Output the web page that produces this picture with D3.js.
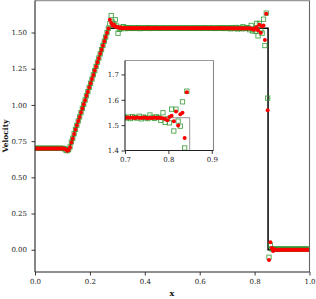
<!DOCTYPE html>
<html><head><meta charset="utf-8">
<script src="https://cdn.jsdelivr.net/npm/d3@7"></script>
<style>
html,body{margin:0;padding:0;background:#fff;}
svg text{font-family:"DejaVu Serif",serif;}
</style></head>
<body><svg id="c" width="316" height="299"></svg>
<script>
// ---------------- data ----------------
const nCells = 200; // cell-centred grid on [0,1]
const xTicks = [0.0, 0.2, 0.4, 0.6, 0.8, 1.0];
const yTicks = [0.00, 0.25, 0.50, 0.75, 1.00, 1.25, 1.50];
const insetXTicks = [0.7, 0.8, 0.9];
const insetYTicks = [1.4, 1.5, 1.6, 1.7];

// exact solution breakpoints
const exactX = [0.0, 0.125, 0.268, 0.849, 0.849, 1.0];
const exactY = [0.70, 0.70, 1.53, 1.53, 0.00, 0.00];

// red (filled circles) scheme
const redY = [
 0.700,0.700,0.700,0.700,0.700,0.700,0.700,0.700,0.700,0.700,0.700,0.700,0.700,0.700,0.700,0.700,0.700,0.700,0.700,0.700,0.700,
 0.698,0.692,0.684,0.688,
 0.708,0.740,0.768,0.800,0.830,0.859,0.889,0.917,0.947,0.975,1.005,1.033,1.063,1.091,1.121,1.149,1.179,1.207,1.237,1.265,1.295,1.323,1.353,1.381,1.411,1.439,1.469,1.498,1.527,
 1.588,1.565,1.548,1.556,1.541,1.536,1.538,1.532,1.534,1.530,1.532,
 1.531,1.529,1.530,1.531,1.530,1.529,1.530,1.531,1.530,1.530,1.529,1.530,1.531,1.530,1.530,1.529,
 1.530,1.531,1.530,1.529,1.530,1.530,1.531,1.530,1.529,1.530,1.530,1.531,1.530,1.530,1.529,1.530,1.530,1.531,1.530,1.530,
 1.530,1.529,1.530,1.530,1.531,1.530,1.530,1.529,1.530,1.530,1.531,1.530,1.529,1.530,1.530,1.530,1.531,1.530,1.529,1.530,
 1.530,1.530,1.531,1.530,1.529,1.530,1.530,1.531,1.530,1.529,1.530,1.530,1.531,1.530,1.529,1.530,1.530,1.529,1.530,1.529,
 1.530,1.529,1.530,1.528,1.530,1.529,1.528,1.530,1.529,1.527,1.529,1.528,1.530,1.528,1.529,
 1.528,1.527,1.524,1.519,1.532,1.537,1.515,1.554,1.499,1.543,1.549,1.449,1.630,0.963,-0.071,0.051,0.012,-0.008,0.004,
 0.000,0.000,0.000,0.000,0.000,0.000,0.000,0.000,0.000,0.000,0.000,0.000,0.000,0.000,0.000,0.000,0.000,0.000,0.000,0.000,0.000,0.000,0.000,0.000,0.000
];

// green (open squares) scheme
const greenY = [
 0.700,0.700,0.700,0.700,0.700,0.700,0.700,0.700,0.700,0.700,0.700,0.700,0.700,0.700,0.700,0.700,0.700,0.700,0.700,0.700,0.700,
 0.697,0.688,0.684,0.692,
 0.710,0.744,0.770,0.801,0.831,0.860,0.889,0.918,0.947,0.976,1.005,1.034,1.063,1.092,1.121,1.150,1.179,1.208,1.237,1.266,1.295,1.324,1.353,1.382,1.411,1.440,1.469,1.499,1.530,
 1.560,1.617,1.572,1.558,1.588,1.545,1.495,1.522,1.528,1.537,1.541,
 1.527,1.533,1.531,1.528,1.533,1.529,1.531,1.528,1.532,1.530,1.534,1.527,1.531,1.529,1.532,1.529,
 1.531,1.533,1.528,1.530,1.532,1.529,1.531,1.530,1.531,1.530,1.529,1.531,1.530,1.531,1.530,1.531,1.529,1.531,1.530,1.530,
 1.531,1.530,1.531,1.530,1.529,1.531,1.530,1.531,1.530,1.531,1.530,1.529,1.531,1.530,1.531,1.530,1.530,1.531,1.530,1.531,
 1.530,1.529,1.531,1.532,1.529,1.530,1.531,1.529,1.531,1.530,1.528,1.532,1.529,1.531,1.529,1.533,1.528,1.531,1.532,1.528,
 1.532,1.526,1.534,1.530,1.528,1.535,1.525,1.532,1.529,1.526,1.540,1.531,1.527,1.533,1.530,
 1.519,1.549,1.511,1.525,1.509,1.563,1.477,1.563,1.516,1.496,1.592,1.410,1.634,1.047,-0.052,0.032,0.006,0.004,0.004,
 0.004,0.004,0.004,0.004,0.004,0.004,0.004,0.004,0.004,0.004,0.004,0.004,0.004,0.004,0.004,0.004,0.004,0.004,0.004,0.004,0.004,0.004,0.004,0.004,0.004
];

const xGrid = d3.range(nCells).map(i => (i + 0.5) / nCells);
const redPts = xGrid.map((x, i) => [x, redY[i]]);
const greenPts = xGrid.map((x, i) => [x, greenY[i]]);
const exactPts = exactX.map((x, i) => [x, exactY[i]]);

// ---------------- drawing ----------------
const svg = d3.select("#c");
const RED = "#ff0000", GREEN = "#2a962a";
const SQ = 4.3, R = 2.0;

function drawPanel(g, x, y, exactColor, exactWidth, clipId) {
  const [x0, x1] = x.range(), [y0, y1] = y.range();
  svg.append("defs").append("clipPath").attr("id", clipId)
    .append("rect").attr("x", x0).attr("y", y1).attr("width", x1 - x0).attr("height", y0 - y1);
  const body = g.append("g").attr("clip-path", `url(#${clipId})`);
  body.append("path").datum(exactPts)
    .attr("d", d3.line().x(d => x(d[0])).y(d => y(d[1])))
    .attr("fill", "none").attr("stroke", exactColor).attr("stroke-width", exactWidth);
  body.append("g").selectAll("rect").data(greenPts).join("rect")
    .attr("x", d => x(d[0]) - SQ / 2).attr("y", d => y(d[1]) - SQ / 2)
    .attr("width", SQ).attr("height", SQ)
    .attr("fill", "none").attr("stroke", GREEN).attr("stroke-width", 0.9).attr("stroke-opacity", 0.85);
  body.append("g").selectAll("circle").data(redPts).join("circle")
    .attr("cx", d => x(d[0])).attr("cy", d => y(d[1])).attr("r", R)
    .attr("fill", RED);
}

function styleAxis(a) {
  a.select(".domain").remove();
  a.selectAll(".tick line").attr("stroke", "#222").attr("stroke-width", 0.9);
  a.selectAll(".tick text").attr("fill", "#222").attr("font-size", "7px")
    .attr("font-family", "DejaVu Serif, serif");
}

function spines(g, x, y, colTop, colRight) {
  const [x0, x1] = x.range(), [y0, y1] = y.range();
  g.append("line").attr("x1", x0).attr("x2", x1).attr("y1", y1).attr("y2", y1).attr("stroke", colTop).attr("stroke-width", 1.1);
  g.append("line").attr("x1", x1).attr("x2", x1).attr("y1", y0).attr("y2", y1).attr("stroke", colRight).attr("stroke-width", 1.1);
  g.append("line").attr("x1", x0).attr("x2", x0).attr("y1", y0).attr("y2", y1).attr("stroke", "#222").attr("stroke-width", 1.1);
  g.append("line").attr("x1", x0).attr("x2", x1).attr("y1", y0).attr("y2", y0).attr("stroke", "#222").attr("stroke-width", 1.1);
}

// main axes
const x = d3.scaleLinear().domain([0, 1]).range([35, 309.5]);
const y = d3.scaleLinear().domain([-0.1537, 1.7205]).range([272, 0.6]);
const main = svg.append("g");
drawPanel(main, x, y, "#000", 1.5, "clipMain");

const gx = main.append("g").attr("transform", "translate(0,272)")
  .call(d3.axisBottom(x).tickValues(xTicks).tickFormat(d3.format(".1f")).tickSize(3.5).tickPadding(4));
styleAxis(gx);
const gy = main.append("g").attr("transform", "translate(35,0)")
  .call(d3.axisLeft(y).tickValues(yTicks).tickFormat(d3.format(".2f")).tickSize(3.5).tickPadding(4.5));
styleAxis(gy);
spines(main, x, y, "#999", "#666");

main.append("text").attr("x", 172).attr("y", 296).attr("text-anchor", "middle")
  .attr("font-size", "8px").attr("font-weight", "bold").attr("fill", "#111").text("x");
main.append("text").attr("transform", "translate(8.3,136) rotate(-90)").attr("text-anchor", "middle")
  .attr("font-size", "7.5px").attr("font-weight", "bold").attr("fill", "#111").text("Velocity");

// inset
const xi = d3.scaleLinear().domain([0.7, 0.904]).range([125, 213.5]);
const yi = d3.scaleLinear().domain([1.4, 1.755]).range([150.5, 60.5]);
const inset = svg.append("g");
inset.append("rect").attr("x", 125).attr("y", 60.5).attr("width", 88.5).attr("height", 90).attr("fill", "#fff");
drawPanel(inset, xi, yi, "#aaa", 1.2, "clipInset");
const gxi = inset.append("g").attr("transform", "translate(0,150.5)")
  .call(d3.axisBottom(xi).tickValues(insetXTicks).tickFormat(d3.format(".1f")).tickSize(3.5).tickPadding(3));
styleAxis(gxi);
const gyi = inset.append("g").attr("transform", "translate(125,0)")
  .call(d3.axisLeft(yi).tickValues(insetYTicks).tickFormat(d3.format(".1f")).tickSize(3.5).tickPadding(2.5));
styleAxis(gyi);
spines(inset, xi, yi, "#999", "#888");
</script></body></html>
